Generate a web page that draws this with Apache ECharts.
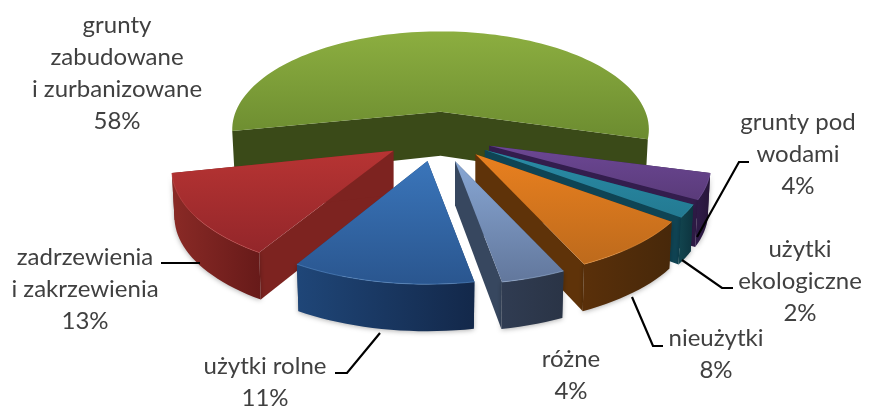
<!DOCTYPE html>
<html><head><meta charset="utf-8">
<style>html,body{margin:0;padding:0;background:#fff}#c{width:870px;height:407px;filter:blur(0.45px)}</style>
<script src="https://cdn.jsdelivr.net/npm/echarts@6/dist/echarts.min.js"></script>
</head><body><div id="c"></div>
<script>
// clockwise from the right edge of the largest slice's end
const categories = ['grunty zabudowane i zurbanizowane','grunty pod wodami','użytki ekologiczne','nieużytki','różne','użytki rolne','zadrzewienia i zakrzewienia'];
const values = [58,4,2,8,4,11,13];
const labelLines = [['grunty','zabudowane','i zurbanizowane'],['grunty pod','wodami'],['użytki','ekologiczne'],['nieużytki'],['różne'],['użytki rolne'],['zadrzewienia','i zakrzewienia']];

// layout and style
const drawOrder = [0,1,2,3,4,6,5];
const topColors = [['#8cae40','#6c8c30'],['#6c4794','#5a3b7a'],['#2a8ba6','#237a92'],['#e9801f','#bd6a1c'],['#88a7d4','#62779c'],['#3a75ba','#2a568f'],['#b73433','#93262a']];
const cutColors = ['#3a4a18','#331d4d','#0f4454','#5f3309','#37475f','#1f4372','#7d2320'];
const wallColors = [['#3a4a18','#3a4a18'],['#301c4a','#271639'],['#12454f','#0d343f'],['#5a300a','#47280a'],['#303c52','#2a3446'],['#1f4678','#13284a'],['#8a2a26','#671a19']];
const edgeColors = ['#9dbd58','#8263a8','#3fa0ba','#f29a44','#a0b9dc','#5b8fcc','#c95150'];
const labelPos = [[117,73],[798,154],[800,281],[716,354],[571,375],[265,382],[85,289]];
const leaders = [
  null,
  [[749,162],[739,162],[697,237]],
  [[682,260],[722,288],[733,288]],
  [[632,297],[653,346],[663,346]],
  null,
  [[380,333],[347,373],[335,373]],
  [[200,263],[161,263]]
];
const sliceScale = [0.94,1,1,1,1,1,1];
const sliceNudge = [[2,0],[0,0],[0,0],[2,-2],[0,0],[-1,-1],[0,-1]];
const edgeNudge = [[2.5,1],[0,0],[0,0],[0,0],[0,0],[0,1],[2,1.5]]; // degrees, start and end edge of each slice as drawn
const cx=438, cy=136, Rx=218, Ry=101, k=0.18, explode=0.25, depth=47, apexDepth=44, firstAngle=105;

const total = values.reduce((a,b)=>a+b,0);
const rad = d=>d*Math.PI/180;
const rel = (X,Y)=>{const w=1-k*Y; return [Rx*X/w, Ry*Y/w];};
let spans=[], acc=firstAngle-values[0]/total*360;
values.forEach(v=>{const s=v/total*360; spans.push([acc,acc+s]); acc+=s;});

const grad=(h,c)=>new echarts.graphic.LinearGradient(0,0,h?1:0,h?0:1,[{offset:0,color:c[0]},{offset:1,color:c[1]}]);
const poly=(points,fill,extra)=>({type:'polygon',shape:{points},style:Object.assign({fill},extra||{})});

function renderItem(params,api){
  const i=api.value(0), m=rad((spans[i][0]+spans[i][1])/2), s=sliceScale[i];
  const a0=spans[i][0]+edgeNudge[i][0], a1=spans[i][1]+edgeNudge[i][1];
  const o=rel(explode*Math.sin(m),-explode*Math.cos(m));
  const ax=cx+o[0]+sliceNudge[i][0], ay=cy+o[1]+sliceNudge[i][1];
  const pt=t=>{const r=rel(Math.sin(rad(t)),-Math.cos(rad(t)));return [ax+s*r[0],ay+s*r[1]];};
  const low=p=>[p[0]+(ax-p[0])*0.012,p[1]+depth];
  const arc=[]; const n=Math.max(3,Math.round((a1-a0)/2));
  for(let j=0;j<=n;j++)arc.push(pt(a0+(a1-a0)*j/n));
  const apex=[ax,ay], apexLow=[ax,ay+apexDepth];
  const first=arc[0], last=arc[arc.length-1];
  const front=o[1]>0;
  const wall=arc.concat(arc.slice().reverse().map(low));
  const children=front
    ? [poly([apex,first,low(first),apexLow],cutColors[i]),poly([apex,last,low(last),apexLow],cutColors[i])]
    : [poly([first,apex,last,low(last),apexLow,low(first)],cutColors[i])];
  if(front) children.push(poly(wall,grad(true,wallColors[i]),{shadowBlur:5,shadowColor:'rgba(0,0,0,0.3)',shadowOffsetY:1}));
  children.push(poly([apex].concat(arc),grad(false,topColors[i])));
  if(front) children.push({type:'polyline',shape:{points:arc.filter(p=>p[1]>ay+15)},style:{fill:null,stroke:edgeColors[i],lineWidth:1,opacity:0.55}});
  return {type:'group',children};
}

const graphics=[];
leaders.forEach(pts=>{ if(pts) graphics.push({type:'polyline',z:10,shape:{points:pts},style:{fill:null,stroke:'#000',lineWidth:2.2}}); });
categories.forEach((c,i)=>{
  graphics.push({type:'text',z:10,x:labelPos[i][0],y:labelPos[i][1],style:{
    text:labelLines[i].concat([values[i]+'%']).join('\n'),
    font:'24px Lato',lineHeight:32,fill:'#404040',align:'center',verticalAlign:'middle'}});
});

const chart=echarts.init(document.getElementById('c'),null,{renderer:'canvas'});
chart.setOption({
  backgroundColor:'#fff',
  animation:false,
  series:[{type:'custom',coordinateSystem:'none',renderItem,silent:true,
    data:drawOrder.map(i=>({name:categories[i],value:[i,values[i]]}))}],
  graphic:graphics
});
</script></body></html>
